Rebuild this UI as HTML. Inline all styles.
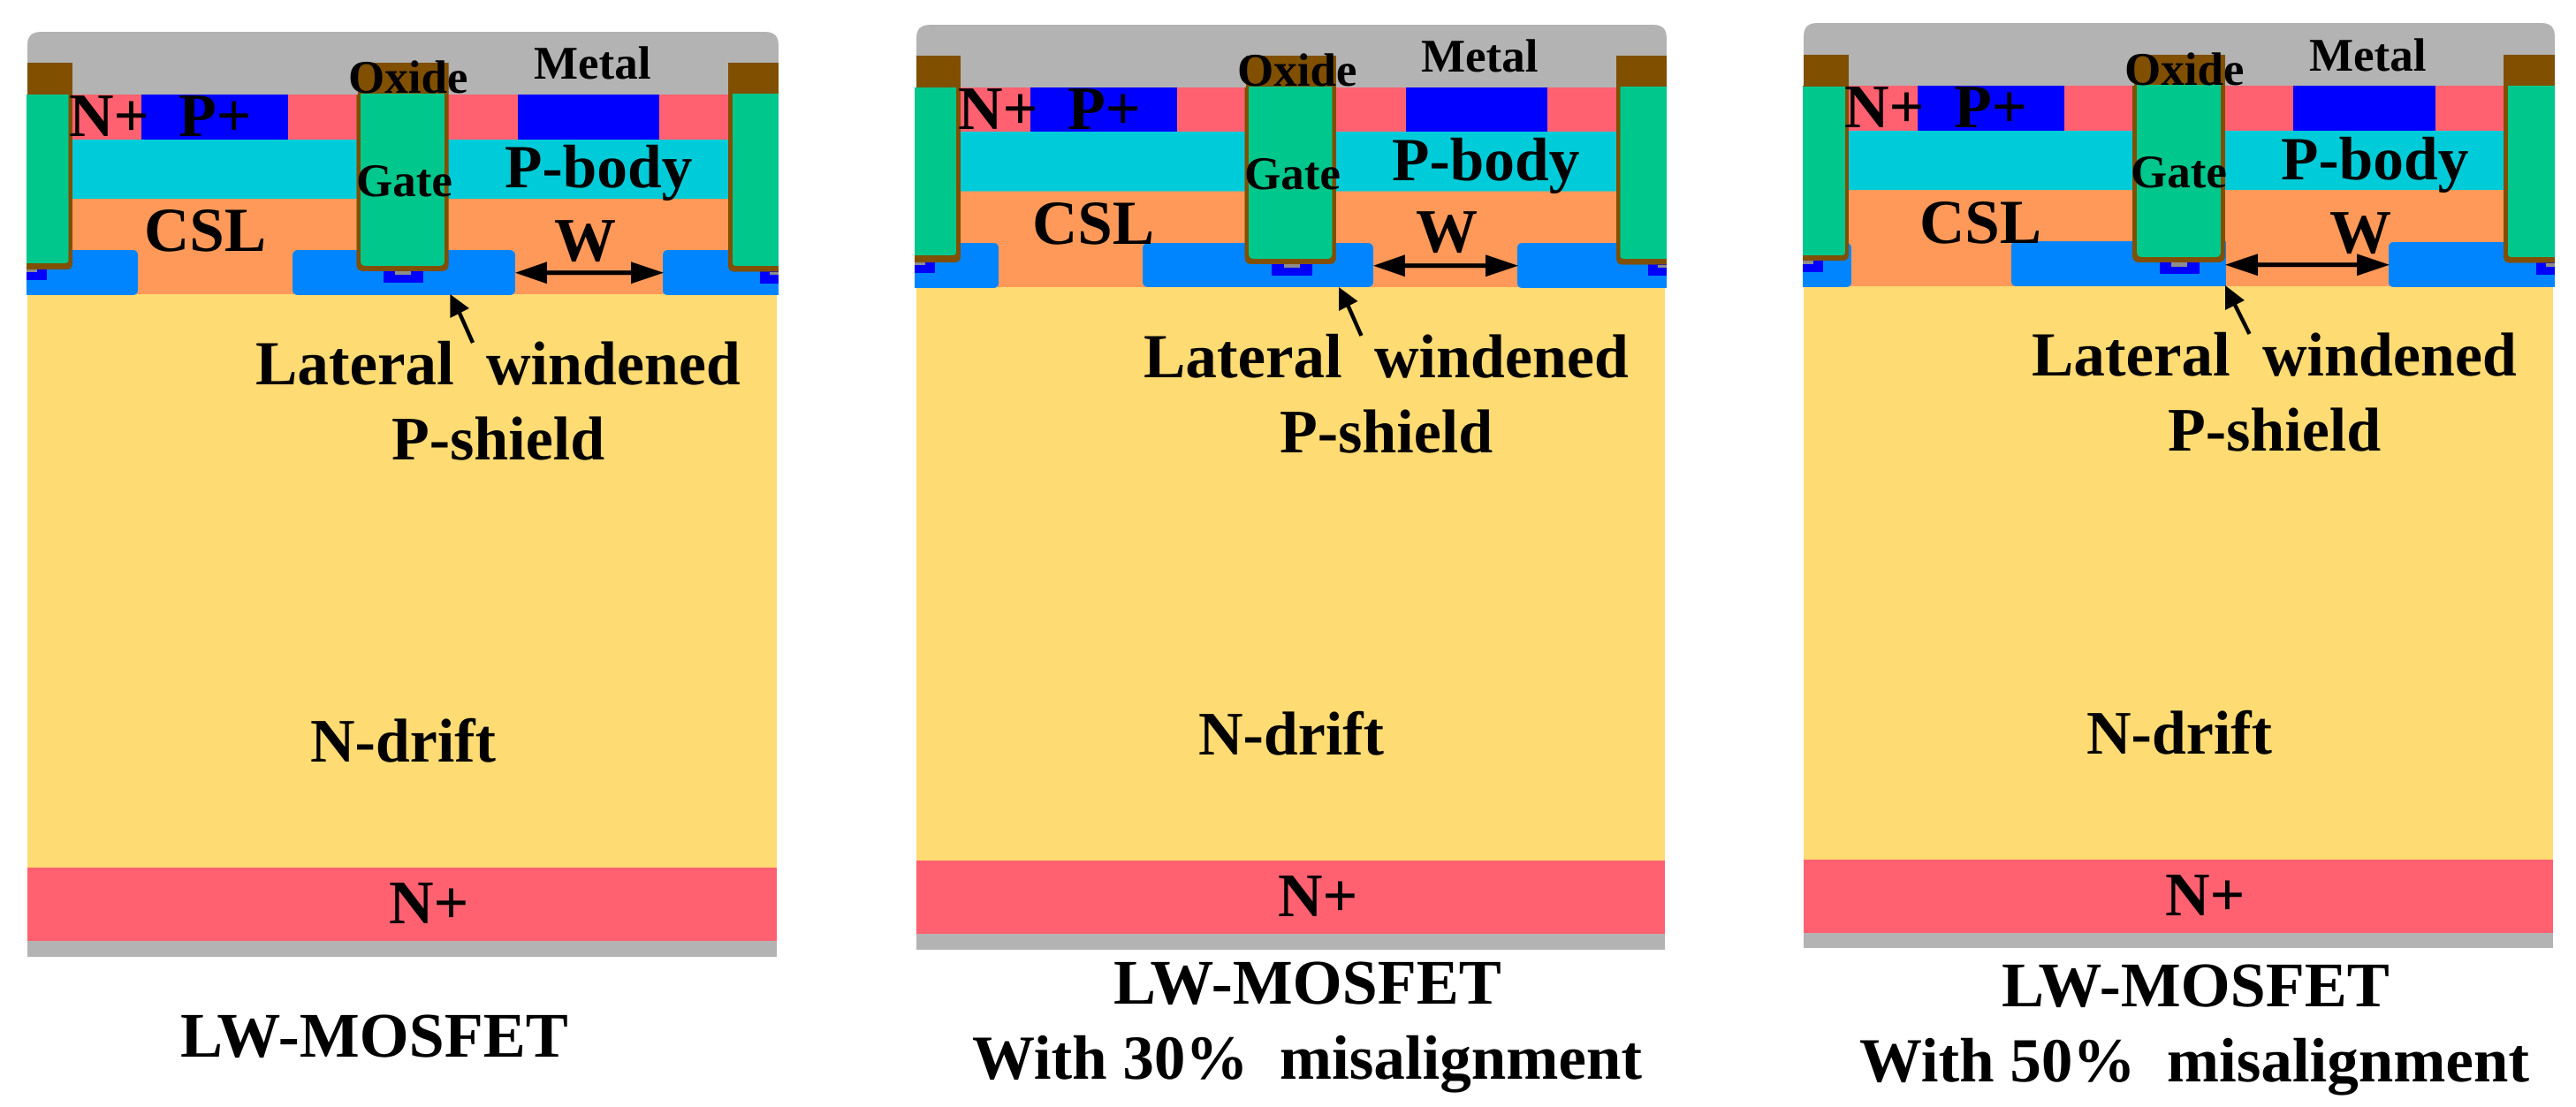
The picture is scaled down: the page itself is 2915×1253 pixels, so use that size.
<!DOCTYPE html>
<html><head><meta charset="utf-8"><title>LW-MOSFET</title>
<style>
html,body{margin:0;padding:0;background:#fff;width:2915px;height:1253px;overflow:hidden}
svg{display:block}
text{font-family:"Liberation Serif","Times New Roman",serif;font-weight:bold;fill:#000;white-space:pre;text-rendering:geometricPrecision}
.l{font-size:70px}.s{font-size:53px}.c{font-size:71px}.t{font-size:72px}.b{font-size:69.5px}
</style></head><body>
<svg xmlns="http://www.w3.org/2000/svg" width="2915" height="1253" viewBox="0 0 2915 1253">
<rect width="2915" height="1253" fill="#fff"/>

<!-- Panel 1 -->
<g>
<rect x="31" y="333" width="848" height="649" fill="#FFDB73"/>
<rect x="31" y="982" width="848" height="83" fill="#FF6170"/>
<rect x="31" y="1065" width="848" height="18" fill="#B3B3B3"/>
<rect x="31" y="225" width="850" height="108" fill="#FF9959"/>
<rect x="31" y="158" width="850" height="67" fill="#00CCD9"/>
<rect x="31" y="107" width="850" height="51" fill="#FF6170"/>
<rect x="160" y="107" width="166" height="51" fill="#0000FF"/>
<rect x="586" y="107" width="160" height="51" fill="#0000FF"/>
<path d="M31 107V51Q31 36 46 36H866Q881 36 881 51V107Z" fill="#B3B3B3"/>
<path d="M30 283H150Q156 283 156 289V328Q156 334 150 334H30Z" fill="#0085FF"/>
<rect x="331" y="283" width="252" height="51" rx="6" fill="#0085FF"/>
<path d="M881 283H756Q750 283 750 289V328Q750 334 756 334H881Z" fill="#0085FF"/>
<rect x="30" y="305" width="23" height="12" fill="#0000FF"/><rect x="30" y="305" width="12" height="3" fill="#8C8C8C"/>
<rect x="434" y="306" width="45" height="14" fill="#0000FF"/><rect x="447" y="306" width="18" height="5" fill="#8C8C8C"/>
<rect x="860" y="307" width="21" height="14" fill="#0000FF"/><rect x="871" y="308" width="10" height="3" fill="#8C8C8C"/>
<path d="M31 71H82V298Q82 305 75 305H30V107H31Z" fill="#804F00"/>
<path d="M30 107H77.5V294Q77.5 298 73.5 298H30Z" fill="#00C78C"/>
<path d="M403.5 107H405V71H507.7V299Q507.7 307 499.7 307H411.5Q403.5 307 403.5 299Z" fill="#804F00"/>
<path d="M408 106H503V295Q503 301 497 301H414Q408 301 408 295Z" fill="#00C78C"/>
<path d="M881 71H824V300Q824 307.5 831 307.5H881Z" fill="#804F00"/>
<path d="M881 106H829V297Q829 301 833 301H881Z" fill="#00C78C"/>
<polygon points="583,308.7 619,296.2 619,321.2" fill="#000"/><polygon points="751,308.7 714,296.2 714,321.2" fill="#000"/>
<rect x="615" y="306.2" width="103" height="5" fill="#000"/>
<polygon points="509.4,333 509.4,360 531,349" fill="#000"/><line x1="519" y1="352" x2="535" y2="388" stroke="#000" stroke-width="4.5"/>
<text class="l" x="78" y="154">N+</text><text class="l" x="202" y="154">P+</text>
<text class="s" x="394" y="105">Oxide</text><text class="s" x="604" y="89">Metal</text>
<text class="s" x="403" y="222">Gate</text><text class="b" x="571" y="212">P-body</text>
<text class="c" x="163" y="284">CSL</text><text class="l" x="627" y="295">W</text>
<text class="c" x="289" y="435">Lateral</text><text class="l" x="550" y="435">windened</text><text class="l" x="443" y="520">P-shield</text>
<text class="l" x="351" y="862">N-drift</text><text class="l" x="440" y="1045">N+</text>
<text class="t" x="204" y="1196">LW-MOSFET</text>
</g>

<!-- Panel 2 -->
<g>
<rect x="1037" y="325" width="847" height="649" fill="#FFDB73"/>
<rect x="1037" y="974" width="847" height="83" fill="#FF6170"/>
<rect x="1037" y="1057" width="847" height="18" fill="#B3B3B3"/>
<rect x="1037" y="216.5" width="849" height="108.5" fill="#FF9959"/>
<rect x="1037" y="149" width="849" height="67.5" fill="#00CCD9"/>
<rect x="1037" y="99" width="849" height="50" fill="#FF6170"/>
<rect x="1166" y="99" width="166" height="50" fill="#0000FF"/>
<rect x="1591" y="99" width="160" height="50" fill="#0000FF"/>
<path d="M1037 99V43Q1037 28 1052 28H1871Q1886 28 1886 43V99Z" fill="#B3B3B3"/>
<path d="M1035 275H1124Q1130 275 1130 281V320Q1130 326 1124 326H1035Z" fill="#0085FF"/>
<rect x="1293" y="275" width="261" height="50" rx="6" fill="#0085FF"/>
<path d="M1886 275H1723Q1717 275 1717 281V320Q1717 326 1723 326H1886Z" fill="#0085FF"/>
<rect x="1035" y="297" width="23" height="12" fill="#0000FF"/><rect x="1035" y="297" width="12" height="3" fill="#8C8C8C"/>
<rect x="1439" y="298" width="46" height="14" fill="#0000FF"/><rect x="1453" y="298" width="18" height="5" fill="#8C8C8C"/>
<rect x="1865" y="299" width="21" height="13" fill="#0000FF"/><rect x="1876" y="300" width="10" height="3" fill="#8C8C8C"/>
<path d="M1037 63H1087V290Q1087 297 1080 297H1035V99H1037Z" fill="#804F00"/>
<path d="M1035 99H1082V285Q1082 289 1078 289H1035Z" fill="#00C78C"/>
<path d="M1408.5 99H1410V63H1512V291Q1512 299 1504 299H1416.5Q1408.5 299 1408.5 291Z" fill="#804F00"/>
<path d="M1413 98H1507.5V287Q1507.5 293 1501.5 293H1419Q1413 293 1413 287Z" fill="#00C78C"/>
<path d="M1886 63H1829V292Q1829 299.5 1836 299.5H1886Z" fill="#804F00"/>
<path d="M1886 98H1833.5V289Q1833.5 293 1837.5 293H1886Z" fill="#00C78C"/>
<polygon points="1554,300.7 1590,288.2 1590,313.2" fill="#000"/><polygon points="1718,300.7 1681,288.2 1681,313.2" fill="#000"/>
<rect x="1586" y="298.2" width="99" height="5" fill="#000"/>
<polygon points="1515,325 1515,352 1536.6,341" fill="#000"/><line x1="1524.6" y1="344" x2="1540.5" y2="380" stroke="#000" stroke-width="4.5"/>
<text class="l" x="1084" y="146">N+</text><text class="l" x="1208" y="146">P+</text>
<text class="s" x="1400" y="97">Oxide</text><text class="s" x="1608" y="81">Metal</text>
<text class="s" x="1408" y="214">Gate</text><text class="b" x="1575" y="204">P-body</text>
<text class="c" x="1168" y="276">CSL</text><text class="l" x="1602" y="285">W</text>
<text class="c" x="1294" y="427">Lateral</text><text class="l" x="1555" y="427">windened</text><text class="l" x="1448" y="512">P-shield</text>
<text class="l" x="1356" y="854">N-drift</text><text class="l" x="1446" y="1037">N+</text>
<text class="t" x="1260" y="1136">LW-MOSFET</text>
<text class="c" x="1100" y="1221">With 30%  misalignment</text>
</g>

<!-- Panel 3 -->
<g>
<rect x="2041" y="324" width="848" height="649" fill="#FFDB73"/>
<rect x="2041" y="973" width="848" height="83" fill="#FF6170"/>
<rect x="2041" y="1056" width="848" height="17" fill="#B3B3B3"/>
<rect x="2041" y="215" width="850" height="109" fill="#FF9959"/>
<rect x="2041" y="148" width="850" height="67" fill="#00CCD9"/>
<rect x="2041" y="97" width="850" height="51" fill="#FF6170"/>
<rect x="2170" y="97" width="166" height="51" fill="#0000FF"/>
<rect x="2595" y="97" width="161" height="51" fill="#0000FF"/>
<path d="M2041 97V41Q2041 26 2056 26H2876Q2891 26 2891 41V97Z" fill="#B3B3B3"/>
<path d="M2040 275H2089Q2095 275 2095 281V319Q2095 325 2089 325H2040Z" fill="#0085FF"/>
<path d="M2282 273H2519V324H2282Q2276 324 2276 318V279Q2276 273 2282 273Z" fill="#0085FF"/>
<path d="M2891 274H2709Q2703 274 2703 280V319Q2703 325 2709 325H2891Z" fill="#0085FF"/>
<rect x="2040" y="295" width="23" height="13" fill="#0000FF"/><rect x="2040" y="295" width="12" height="4" fill="#8C8C8C"/>
<rect x="2444" y="297" width="45" height="13" fill="#0000FF"/><rect x="2457" y="297" width="18" height="5" fill="#8C8C8C"/>
<rect x="2870" y="297" width="21" height="14" fill="#0000FF"/><rect x="2881" y="298" width="10" height="4" fill="#8C8C8C"/>
<path d="M2041 62H2092V288Q2092 295 2085 295H2040V97H2041Z" fill="#804F00"/>
<path d="M2040 98H2088V285Q2088 289 2084 289H2040Z" fill="#00C78C"/>
<path d="M2413 97H2415V62H2518V289Q2518 297 2510 297H2421Q2413 297 2413 289Z" fill="#804F00"/>
<path d="M2418 96H2513V285Q2513 291 2507 291H2424Q2418 291 2418 285Z" fill="#00C78C"/>
<path d="M2891 62H2833V290Q2833 297.5 2840 297.5H2891Z" fill="#804F00"/>
<path d="M2891 97H2838V287Q2838 291 2842 291H2891Z" fill="#00C78C"/>
<polygon points="2518,299.7 2555,287.2 2555,312.2" fill="#000"/><polygon points="2704,299.7 2667,287.2 2667,312.2" fill="#000"/>
<rect x="2551" y="297.2" width="120" height="5" fill="#000"/>
<polygon points="2518,323 2518,351 2540,340" fill="#000"/><line x1="2528" y1="343" x2="2545.5" y2="378" stroke="#000" stroke-width="4.5"/>
<text class="l" x="2087" y="144">N+</text><text class="l" x="2211" y="144">P+</text>
<text class="s" x="2404" y="96">Oxide</text><text class="s" x="2613" y="80">Metal</text>
<text class="s" x="2411" y="212">Gate</text><text class="b" x="2581" y="203">P-body</text>
<text class="c" x="2172" y="275">CSL</text><text class="l" x="2636" y="286">W</text>
<text class="c" x="2299" y="425">Lateral</text><text class="l" x="2560" y="425">windened</text><text class="l" x="2453" y="510">P-shield</text>
<text class="l" x="2361" y="853">N-drift</text><text class="l" x="2450" y="1036">N+</text>
<text class="t" x="2265" y="1139">LW-MOSFET</text>
<text class="c" x="2104" y="1224">With 50%  misalignment</text>
</g>
</svg>
</body></html>
